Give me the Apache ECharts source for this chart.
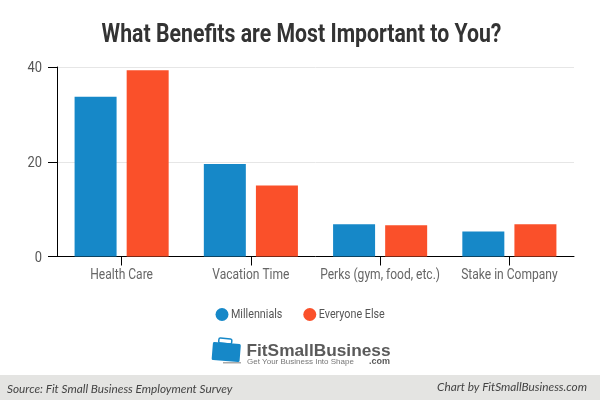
<!DOCTYPE html>
<html><head><meta charset="utf-8">
<style>html,body{margin:0;padding:0;background:#fff}#c{width:600px;height:400px}</style>
<script src="https://cdn.jsdelivr.net/npm/echarts@6/dist/echarts.min.js"></script>
</head><body><div id="c"></div>
<script>
const categories = ["Health Care","Vacation Time","Perks (gym, food, etc.)","Stake in Company"];
const millennials = [33.7,19.5,6.8,5.3];
const everyoneElse = [39.3,15,6.6,6.8];
const yTicks = [0,20,40];
const chart = echarts.init(document.getElementById('c'),null,{renderer:'canvas'});
const narrow = 'Roboto';
const foot = {fontFamily:'Lato',fontStyle:'italic',fontSize:11.8,fill:'#444'};
chart.setOption({
  animation:false,
  backgroundColor:'#fff',
  title:{text:'What Benefits are Most Important to You?',left:296.5,textAlign:'center',top:18,
    textStyle:{fontFamily:narrow,fontWeight:'bold',fontSize:25,color:'#333'}},
  grid:{left:57,right:26,top:67,bottom:143.5},
  legend:{top:303,left:210.5,icon:'circle',itemWidth:13,itemHeight:13,itemGap:10,
    textStyle:{fontFamily:narrow,fontSize:12.5,color:'#555'},
    data:['Millennials','Everyone Else']},
  xAxis:{type:'category',data:categories,
    axisLine:{lineStyle:{color:'#000',width:1}},
    axisTick:{show:true,alignWithLabel:true,length:9,lineStyle:{color:'#000'},interval:0},
    axisLabel:{interval:0,margin:12,fontFamily:narrow,fontSize:14,color:'#666'}},
  yAxis:{type:'value',min:0,max:40,interval:20,
    axisLine:{show:true,lineStyle:{color:'#000',width:1}},
    axisTick:{show:true,length:9,lineStyle:{color:'#000'}},
    splitLine:{lineStyle:{color:'#e6e6e6',width:1}},
    axisLabel:{margin:15,fontFamily:narrow,fontSize:15,color:'#555',customValues:yTicks}},
  series:[
    {name:'Millennials',type:'bar',data:millennials,barWidth:42,barGap:'24%',itemStyle:{color:'#1688c8'}},
    {name:'Everyone Else',type:'bar',data:everyoneElse,barWidth:42,barGap:'24%',itemStyle:{color:'#fa502a'}}
  ],
  graphic:[
    {type:'rect',shape:{x:0,y:375,width:600,height:25},style:{fill:'#e4e4e2'},silent:true},
    {type:'text',x:7,y:383,style:{text:'Source: Fit Small Business Employment Survey',...foot}},
    {type:'text',x:587,y:381,style:{text:'Chart by FitSmallBusiness.com',align:'right',...foot}},
    {type:'rect',rotation:-0.08,x:213,y:342,shape:{x:0,y:0,width:28,height:18,r:1.5},style:{fill:'#1688c8'}},
    {type:'rect',rotation:-0.08,x:219,y:338,shape:{x:0,y:0,width:13,height:5,r:1.5},style:{fill:'none',stroke:'#1688c8',lineWidth:1.5}},
    {type:'rect',x:223,y:362,shape:{x:0,y:0,width:18,height:1.5},style:{fill:'#aaa'}},
    {type:'text',x:246.5,y:343,style:{text:'FitSmallBusiness',fontFamily:'Liberation Sans',fontWeight:'bold',fontSize:17.3,fill:'#5a5a5a'}},
    {type:'text',x:247,y:358,style:{text:'Get Your Business Into Shape',fontFamily:'Liberation Sans',fontSize:8,fill:'#777'}},
    {type:'text',x:390,y:357,style:{text:'.com',align:'right',fontFamily:'Liberation Sans',fontWeight:'bold',fontSize:9,fill:'#5a5a5a'}}
  ]
});
// The reference uses a condensed face: narrow the Roboto labels horizontally about their anchors.
chart.getZr().storage.getDisplayList(true).forEach(function (el) {
  const t = el.parent;
  if (t && t.style && t.style.fontFamily === 'Roboto') {
    t.scaleX = t.style.fontWeight === 'bold' ? 0.85 : 0.86;
    if (t.style.fontSize === 15) t.y += 1.5;
    t.markRedraw();
  }
});
chart.getZr().refreshImmediately();
</script></body></html>
